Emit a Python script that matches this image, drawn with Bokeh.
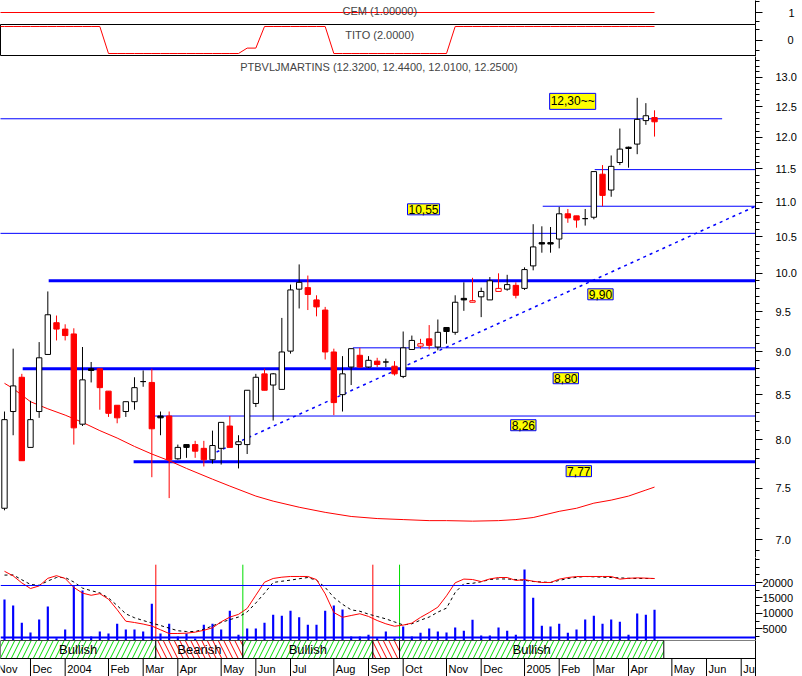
from bokeh.plotting import figure
from bokeh.models import (Range1d, FixedTicker, PrintfTickFormatter, Label, Span,
                          LinearAxis, ColumnDataSource)
from bokeh.layouts import column
from bokeh.embed import file_html
from bokeh.resources import INLINE
from bokeh.core.properties import value

# ---------------- data (weekly, PTBVLJMARTINS) ----------------
opens = [7.30, 8.31, 8.70, 7.92, 8.31, 8.97, 9.36, 9.28, 9.22, 8.17,
         8.80, 8.80, 8.54, 8.38, 8.31, 8.42, 8.65, 8.64, 8.26, 8.26,
         7.80, 7.95, 7.95, 7.91, 7.79, 7.91, 8.15, 7.95, 7.95, 8.40,
         8.74, 8.61, 8.56, 9.01, 9.79, 9.81, 9.65, 9.52, 9.00, 8.50,
         8.82, 8.96, 8.82, 8.89, 8.88, 8.83, 8.71, 9.03, 9.07, 9.16,
         9.06, 9.30, 9.24, 9.67, 9.62, 9.69, 9.65, 9.76, 9.79, 9.84,
         9.80, 10.10, 10.42, 10.42, 10.47, 10.83, 10.80, 10.76, 10.78, 11.42,
         11.18, 11.60, 11.84, 11.89, 12.27, 12.32]
highs = [8.31, 9.04, 8.74, 8.43, 9.12, 9.76, 9.45, 9.34, 9.29, 9.06,
         8.88, 8.80, 8.54, 8.38, 8.42, 8.70, 8.78, 8.80, 8.31, 8.31,
         7.95, 7.95, 7.99, 7.99, 8.10, 8.19, 8.26, 8.05, 8.55, 8.74,
         8.80, 8.75, 9.42, 9.85, 10.12, 9.97, 9.71, 9.56, 9.04, 8.95,
         9.04, 9.05, 8.95, 8.93, 8.92, 8.89, 9.25, 9.20, 9.16, 9.33,
         9.40, 9.30, 9.71, 9.88, 9.94, 9.81, 9.95, 10.00, 9.98, 9.88,
         10.08, 10.68, 10.65, 10.64, 10.93, 10.90, 10.80, 10.90, 11.46, 11.56,
         11.71, 12.14, 11.85, 12.65, 12.56, 12.44]
lows = [7.28, 8.05, 7.78, 7.92, 8.24, 8.97, 9.14, 9.14, 7.95, 8.15,
        8.64, 8.33, 8.25, 8.18, 8.25, 8.33, 8.59, 7.61, 8.05, 7.40,
        7.79, 7.81, 7.81, 7.72, 7.75, 7.74, 7.92, 7.70, 7.85, 8.36,
        8.55, 8.21, 8.56, 8.98, 9.54, 9.52, 9.44, 8.91, 8.27, 8.31,
        8.61, 8.81, 8.81, 8.82, 8.82, 8.72, 8.69, 9.03, 9.04, 9.03,
        9.02, 9.10, 9.21, 9.51, 9.62, 9.43, 9.65, 9.76, 9.77, 9.67,
        9.78, 10.04, 10.28, 10.28, 10.34, 10.70, 10.63, 10.66, 10.75, 10.94,
        11.08, 11.56, 11.52, 11.73, 12.20, 12.01]
closes = [8.22, 8.60, 7.78, 8.22, 8.93, 9.46, 9.28, 9.20, 8.13, 8.67,
          8.78, 8.58, 8.29, 8.24, 8.42, 8.58, 8.65, 8.12, 8.24, 7.79,
          7.92, 7.92, 7.88, 7.79, 7.94, 8.19, 7.92, 7.98, 8.55, 8.70,
          8.55, 8.74, 9.00, 9.78, 9.88, 9.72, 9.56, 9.00, 8.41, 8.74,
          9.04, 8.82, 8.90, 8.85, 8.88, 8.74, 9.05, 9.14, 9.10, 9.08,
          9.24, 9.25, 9.62, 9.65, 9.64, 9.76, 9.90, 9.80, 9.85, 9.71,
          10.05, 10.36, 10.40, 10.40, 10.83, 10.77, 10.74, 10.76, 11.46, 11.10,
          11.54, 11.81, 11.82, 12.29, 12.35, 12.25]
volume = [14480, 12530, 6900, 3770, 7990, 12210, 1900, 4740, 18800, 17400,
          2470, 4090, 3440, 6590, 4740, 4740, 4090, 13090, 3440, 6590,
          2470, 3440, 1800, 6270, 6590, 4740, 10810, 3020, 5070, 5070,
          6900, 9510, 9190, 10810, 8730, 6270, 6270, 10810, 12530, 11230,
          2470, 2470, 3020, 1900, 4090, 1900, 5710, 2470, 3660, 5070,
          4090, 3770, 5390, 4310, 7890, 2790, 2790, 5390, 4310, 3020,
          24220, 15030, 5940, 5710, 6590, 3660, 4740, 7990, 9190, 6590,
          7990, 7240, 3020, 9940, 9510, 11140]
osc_fast = [96.4, 91.1, 83.0, 76.5, 79.5, 88.3, 91.3, 88.1, 77.8, 71.2,
            68.7, 70.6, 64.2, 52.1, 38.8, 37.3, 35.5, 33.2, 28.9, 24.6,
            24.6, 25.0, 26.2, 28.3, 31.2, 38.1, 43.5, 46.7, 53.5, 68.8,
            83.8, 88.1, 89.6, 90.4, 90.4, 90.4, 86.8, 70.4, 48.8, 43.3,
            45.4, 47.4, 44.3, 39.6, 35.8, 33.0, 34.3, 36.6, 43.2, 48.8,
            55.0, 68.1, 83.1, 87.4, 86.9, 84.5, 87.6, 89.2, 89.2, 85.8,
            86.8, 84.9, 83.5, 83.5, 87.3, 89.2, 90.3, 90.4, 90.4, 90.4,
            90.4, 87.3, 88.3, 88.8, 88.5, 88.0]
osc_slow = [92.0, 92.2, 86.6, 81.2, 80.2, 85.2, 89.2, 89.2, 84.0, 77.0,
            74.0, 71.5, 65.6, 56.9, 47.3, 42.8, 39.6, 36.7, 33.8, 30.8,
            27.8, 26.9, 26.9, 29.5, 33.4, 37.3, 40.6, 43.6, 49.5, 59.8,
            71.2, 83.5, 84.9, 86.2, 87.8, 89.2, 86.0, 77.8, 66.2, 58.3,
            51.9, 50.3, 47.0, 44.2, 41.5, 38.0, 34.5, 35.8, 40.0, 43.6,
            49.3, 53.9, 72.0, 82.1, 82.5, 84.3, 86.9, 87.6, 87.5, 86.9,
            86.0, 84.6, 84.0, 83.5, 85.8, 88.1, 89.4, 90.4, 90.0, 89.6,
            89.2, 88.8, 88.3, 88.1, 88.1, 88.1]
tito = [1, 1, 1, 1, 1, 1, 1, 1, 1, 1, 1, 1,
        -1, -1, -1, -1, -1, -1, -1, -1, -1, -1, -1, -1, -1, -1, -1, -1,
        -0.6, -0.6,
        1, 1, 1, 1, 1, 1, 1, 1,
        -1, -1, -1, -1, -1, -1, -1, -1, -1, -1, -1, -1, -1, -1,
        1, 1, 1, 1, 1, 1, 1, 1, 1, 1, 1, 1, 1, 1, 1, 1, 1, 1, 1, 1, 1, 1, 1, 1]
cem_level = 1.0
ma_weeks = [0, 1, 3, 5, 7, 9, 11, 13, 15, 17, 19, 21, 24, 26, 29, 31, 34, 37, 40,
            43, 46, 49, 51, 54, 57, 59, 61, 64, 66, 68, 70, 72, 74, 75]
ma_values = [8.63, 8.57, 8.42, 8.34, 8.27, 8.19, 8.10, 8.02, 7.93, 7.85, 7.78, 7.70,
             7.59, 7.52, 7.42, 7.37, 7.31, 7.26, 7.22, 7.20, 7.19, 7.18, 7.18, 7.175,
             7.18, 7.19, 7.21, 7.27, 7.30, 7.35, 7.38, 7.42, 7.48, 7.51]

hline_price = [12.30, 11.49, 10.94, 10.55, 9.90, 9.05, 8.80, 8.26, 7.77]
hline_from = [-1, 68.1, 62.1, -1, 5.1, 40.2, 2.1, 17.0, 14.9]
hline_to = [82.8, 90, 90, 90, 90, 90, 90, 90, 90]
hline_bold = [False, False, False, False, True, False, True, False, True]
box_text = ["12,30~~", "10,55", "9,90", "8,80", "8,26", "7,77"]
box_week = [62.9, 46.5, 67.3, 63.3, 58.4, 64.8]
box_price = [12.59, 10.895, 9.723, 8.689, 8.159, 7.672]
trend_weeks = [23, 86.65]
trend_prices = [7.81, 10.94]

month_week = [-1, 3, 7, 12, 16, 20, 25, 29, 33, 38, 42, 46, 51, 55, 60, 64, 68, 72, 77, 81, 85]
month_label = ["Nov", "Dec", "2004", "Feb", "Mar", "Apr", "May", "Jun", "Jul", "Aug",
               "Sep", "Oct", "Nov", "Dec", "2005", "Feb", "Mar", "Apr", "May", "Jun", "Jul"]
phase_start = [-0.46, 17.46, 27.5, 42.5, 45.58]
phase_end = [17.46, 27.5, 42.5, 45.58, 76.07]
phase_name = ["Bullish", "Bearish", "Bullish", "Bearish", "Bullish"]

price_ticks = [7.0, 7.5, 8.0, 8.5, 9.0, 9.5, 10.0, 10.5, 11.0, 11.5, 12.0, 12.5, 13.0]
volume_ticks = [5000, 10000, 15000, 20000]
osc_levels = [80, 20]
title_text = "PTBVLJMARTINS (12.3200, 12.4400, 12.0100, 12.2500)"

# ---------------- styling helpers ----------------
FONT = "Liberation Sans"
BLUE = "#0000ff"
RED = "#ff0000"
GREEN = "#00dd00"
xr = Range1d(-0.46, 86.65)


def make_fig(h, yr, **kw):
    f = figure(frame_width=755, frame_height=h, x_range=xr, y_range=yr,
               x_axis_location=None, toolbar_location=None, output_backend="svg",
               title=None, min_border_left=0, min_border_right=47,
               min_border_top=0, min_border_bottom=0, outline_line_color=None,
               background_fill_color="white", border_fill_color="white", **kw)
    f.xgrid.visible = False
    f.ygrid.visible = False
    return f


def style_axis(ax, ticks, minor, standoff, fmt=None):
    ax.ticker = FixedTicker(ticks=ticks, minor_ticks=minor)
    ax.axis_line_color = "black"
    ax.major_tick_out = 7
    ax.major_tick_in = 0
    ax.minor_tick_out = 4
    ax.minor_tick_in = 0
    ax.major_tick_line_color = "black"
    ax.minor_tick_line_color = "black"
    ax.major_label_standoff = standoff
    ax.major_label_text_font = FONT
    ax.major_label_text_font_size = "11px"
    ax.major_label_text_color = "black"
    if fmt:
        ax.formatter = PrintfTickFormatter(format=fmt)


weeks = list(range(len(closes)))

# ---------------- CEM panel ----------------
cem = make_fig(24, Range1d(0.25, 1.75), y_axis_location="right")
style_axis(cem.yaxis[0], [1], [0.45, 1.7], 26, "%d")
cem.segment(x0=[-1], y0=[cem_level], x1=[75], y1=[cem_level], line_color=RED, line_width=1)
cem.add_layout(Label(x=43.3, y=1.125, text="CEM (1.00000)", text_align="center",
                     text_baseline="middle", text_font=FONT, text_font_size="11px"))

# ---------------- TITO panel ----------------
tt = make_fig(32, Range1d(-1.222, 1.148), y_axis_location="right")
tt.outline_line_color = "black"
style_axis(tt.yaxis[0], [0], [-0.8, 0.8], 25, "%d")
tt.line([-1] + weeks, [tito[0]] + tito, line_color=RED, line_width=1)
tt.add_layout(Label(x=43.3, y=0.407, text="TITO (2.0000)", text_align="center",
                    text_baseline="middle", text_font=FONT, text_font_size="11px"))

# ---------------- price panel ----------------
p = make_fig(501, Range1d(6.834, 13.37), y_axis_type="log", y_axis_location="right")
minor_price = [round(6.8 + 0.1 * k, 1) for k in range(66)]
style_axis(p.yaxis[0], price_ticks, minor_price, 13, "%.1f")

hl = ColumnDataSource(dict(x0=hline_from, x1=hline_to, y=hline_price,
                           w=[3 if b else 1 for b in hline_bold]))
p.segment(x0="x0", y0="y", x1="x1", y1="y", line_width="w", line_color=BLUE, source=hl)
p.line(trend_weeks, trend_prices, line_color=BLUE, line_width=1.5, line_dash="3 4")
p.line(ma_weeks, ma_values, line_color=RED, line_width=1)

prev = [closes[0]] + closes[:-1]
col = ["#000000" if c >= pc else RED for c, pc in zip(closes, prev)]
fill = ["#ffffff" if c >= o else k for o, c, k in zip(opens, closes, col)]
cs = ColumnDataSource(dict(x=weeks, o=opens, h=highs, l=lows, c=closes,
                           top=[max(o, c) for o, c in zip(opens, closes)],
                           bot=[min(o, c) for o, c in zip(opens, closes)],
                           col=col, fill=fill))
p.segment(x0="x", y0="l", x1="x", y1="h", line_color="col", line_width=1, source=cs)
p.vbar(x="x", width=0.62, top="top", bottom="bot", fill_color="fill",
       line_color="col", line_width=1, source=cs)

for t, wk, pr in zip(box_text, box_week, box_price):
    p.add_layout(Label(x=wk, y=pr, text=t, text_align="left", text_baseline="middle",
                       text_font=FONT, text_font_size="12px", text_color="black",
                       background_fill_color="#ffff00", border_line_color=BLUE,
                       border_line_width=1, padding=1))
p.add_layout(Label(x=43.2, y=13.19, text=title_text, text_align="center",
                   text_baseline="middle", text_font=FONT, text_font_size="11px"))

# ---------------- volume / oscillator panel ----------------
v = make_fig(83, Range1d(1170, 28120), y_axis_location="right")
v.extra_y_ranges = {"osc": Range1d(16.54, 112.3)}
style_axis(v.yaxis[0], volume_ticks, [2500 * k for k in range(1, 12)], 0, "%d")
v.vbar(x=weeks, top=volume, bottom=0, width=0.25, fill_color=BLUE, line_color=None)
for lvl, lw in zip(osc_levels, [1, 2]):
    v.add_layout(Span(location=lvl, dimension="width", y_range_name="osc",
                      line_color=BLUE, line_width=lw))
sig_x = phase_start[1:]
sig_c = [RED if n == "Bearish" else GREEN for n in phase_name[1:]]
v.segment(x0=sig_x, y0=[16.54] * len(sig_x), x1=sig_x, y1=[104] * len(sig_x),
          line_color=sig_c, line_width=1, y_range_name="osc")
v.line(weeks, osc_slow, line_color="black", line_width=1, line_dash="3 3", y_range_name="osc")
v.line(weeks, osc_fast, line_color=RED, line_width=1, y_range_name="osc")

# ---------------- phase band + date axis ----------------
b = make_fig(36, Range1d(0, 1), y_axis_location=None)
b.add_layout(LinearAxis(ticker=FixedTicker(ticks=[]), axis_line_color="black",
                        major_tick_out=0, minor_tick_out=0), "right")
is_bull = [n == "Bullish" for n in phase_name]
ph = ColumnDataSource(dict(l=phase_start, r=phase_end,
                           hatch=["/" if u else "\\" for u in is_bull],
                           hc=[GREEN if u else RED for u in is_bull]))
b.quad(left="l", right="r", bottom=0.5, top=1.0, fill_color="white",
       hatch_pattern="hatch", hatch_color="hc", hatch_scale=11, hatch_weight=1,
       line_color="black", line_width=1, source=ph)
b.quad(left=[-1], right=[100], bottom=[0.5], top=[1.0], fill_color=None,
       line_color="black", line_width=1)
lab_idx = [k for k in range(len(phase_name)) if phase_end[k] - phase_start[k] > 5]
b.text(x=[(phase_start[k] + phase_end[k]) / 2 for k in lab_idx], y=[0.75] * len(lab_idx),
       text=[phase_name[k] for k in lab_idx], text_align="center", text_baseline="middle",
       text_font=value(FONT), text_font_size="13px", text_color="black")
b.segment(x0=month_week, y0=[0] * len(month_week), x1=month_week, y1=[0.5] * len(month_week),
          line_color="black", line_width=1)
b.text(x=month_week, y=[0.2] * len(month_week), text=month_label, x_offset=2,
       text_align="left", text_baseline="middle", text_font=value(FONT),
       text_font_size="11px", text_color="black")

layout = column(cem, tt, p, v, b, spacing=0)
open("out.html", "w").write(file_html(layout, INLINE))
